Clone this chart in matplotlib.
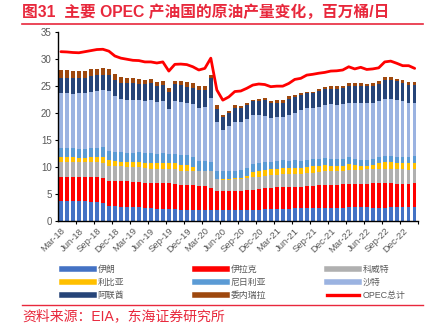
import numpy as np
import pandas as pd
import matplotlib
matplotlib.use('Agg')
import matplotlib.pyplot as plt
from matplotlib.lines import Line2D

plt.rcParams['font.family'] = ['Liberation Sans', 'Noto Sans CJK SC']
plt.rcParams['axes.unicode_minus'] = False

# Monthly data Mar-18 .. Feb-23, million barrels per day
months = pd.date_range('2018-03-01', periods=60, freq='MS').strftime('%b-%y')

iran = [3.75, 3.75, 3.75, 3.75, 3.7, 3.55, 3.45, 3.35, 2.75, 2.65, 2.6, 2.6, 2.6, 2.55, 2.45, 2.35, 2.25, 2.2, 2.15, 2.1,
        2.05, 2.05, 2.05, 2.0, 2.0, 2.0, 1.95, 1.95, 1.95, 1.95, 1.95, 1.95, 2.0, 2.05, 2.1, 2.15, 2.15, 2.2, 2.25, 2.3,
        2.35, 2.35, 2.4, 2.4, 2.4, 2.4, 2.45, 2.45, 2.5, 2.5, 2.5, 2.5, 2.45, 2.45, 2.45, 2.5, 2.5, 2.5, 2.5, 2.5]
iraq = [4.45, 4.45, 4.45, 4.45, 4.5, 4.65, 4.6, 4.65, 4.65, 4.7, 4.75, 4.7, 4.6, 4.65, 4.6, 4.6, 4.7, 4.75, 4.8, 4.8,
        4.6, 4.6, 4.6, 4.5, 4.5, 4.15, 3.6, 3.55, 3.55, 3.6, 3.6, 3.75, 3.8, 3.85, 3.9, 4.0, 4.1, 4.1, 4.05, 4.0,
        3.95, 4.1, 4.1, 4.15, 4.25, 4.25, 4.25, 4.3, 4.3, 4.3, 4.3, 4.4, 4.5, 4.5, 4.5, 4.45, 4.4, 4.35, 4.3, 4.45]
kuwait = [2.7, 2.7, 2.7, 2.7, 2.75, 2.75, 2.8, 2.8, 2.8, 2.8, 2.75, 2.7, 2.7, 2.7, 2.7, 2.7, 2.65, 2.65, 2.6, 2.65,
          2.6, 2.6, 2.6, 2.65, 2.7, 3.0, 2.2, 2.15, 2.15, 2.2, 2.25, 2.25, 2.25, 2.3, 2.3, 2.3, 2.3, 2.35, 2.35, 2.4,
          2.4, 2.45, 2.45, 2.5, 2.5, 2.5, 2.55, 2.55, 2.6, 2.6, 2.6, 2.65, 2.65, 2.7, 2.75, 2.75, 2.7, 2.7, 2.7, 2.7]
libya = [0.95, 1.0, 0.95, 0.75, 0.7, 0.9, 1.05, 1.1, 1.05, 0.95, 0.9, 0.95, 1.05, 1.1, 1.05, 1.05, 1.05, 1.1, 1.1, 1.1,
         1.1, 1.1, 0.7, 0.12, 0.1, 0.08, 0.08, 0.08, 0.1, 0.1, 0.15, 0.45, 1.0, 1.1, 1.15, 1.15, 1.15, 1.15, 1.15, 1.15,
         1.15, 1.15, 1.15, 1.1, 1.15, 1.1, 1.0, 0.95, 1.1, 0.9, 0.7, 0.6, 0.75, 1.15, 1.15, 1.15, 1.15, 1.1, 1.15, 1.15]
nigeria = [1.7, 1.7, 1.7, 1.6, 1.65, 1.7, 1.7, 1.75, 1.75, 1.75, 1.7, 1.7, 1.7, 1.75, 1.8, 1.8, 1.8, 1.8, 1.8, 1.8,
           1.8, 1.8, 1.8, 1.8, 1.75, 1.75, 1.5, 1.45, 1.45, 1.45, 1.45, 1.45, 1.45, 1.4, 1.45, 1.4, 1.4, 1.4, 1.35, 1.35,
           1.3, 1.3, 1.35, 1.35, 1.3, 1.3, 1.3, 1.3, 1.25, 1.2, 1.2, 1.15, 1.1, 1.05, 1.1, 1.1, 1.15, 1.2, 1.2, 1.2]
saudi = [10.1, 10.05, 10.05, 10.4, 10.5, 10.45, 10.55, 10.65, 11.1, 10.35, 9.95, 9.85, 9.85, 9.6, 9.65, 9.9, 9.55, 9.75, 8.3, 9.8,
         9.85, 9.65, 9.85, 9.95, 10.15, 11.9, 9.05, 7.65, 8.4, 8.95, 8.85, 9.05, 9.15, 8.95, 8.6, 8.15, 8.2, 8.1, 8.5, 8.85,
         9.4, 9.5, 9.4, 9.7, 9.9, 10.05, 9.95, 10.05, 10.15, 10.4, 10.5, 10.5, 10.4, 10.3, 10.75, 10.6, 10.5, 10.45, 10.05, 9.9]
uae = [2.8, 2.85, 2.85, 2.8, 2.75, 2.8, 2.85, 2.8, 2.9, 2.95, 3.0, 3.05, 3.05, 3.1, 3.1, 3.1, 3.05, 2.95, 3.2, 3.1,
       3.2, 3.1, 3.1, 3.3, 3.1, 3.7, 2.45, 2.45, 2.35, 2.75, 2.75, 2.6, 2.5, 2.6, 2.9, 2.65, 2.6, 2.65, 3.0, 2.85,
       2.75, 2.8, 2.8, 2.9, 2.9, 2.95, 3.05, 3.0, 3.2, 3.2, 3.3, 3.15, 3.2, 3.3, 3.4, 3.6, 3.5, 3.25, 3.3, 3.3]
venezuela = [1.5, 1.45, 1.4, 1.35, 1.3, 1.3, 1.25, 1.2, 1.15, 1.15, 1.1, 0.95, 0.9, 0.85, 0.8, 0.75, 0.75, 0.75, 0.65, 0.65,
             0.75, 0.8, 0.8, 0.75, 0.75, 0.5, 0.6, 0.45, 0.5, 0.5, 0.4, 0.3, 0.3, 0.35, 0.35, 0.5, 0.5, 0.45, 0.45, 0.5,
             0.35, 0.35, 0.35, 0.35, 0.35, 0.45, 0.45, 0.5, 0.5, 0.45, 0.5, 0.5, 0.5, 0.5, 0.6, 0.6, 0.5, 0.6, 0.5, 0.55]
opec_total = [31.4, 31.35, 31.25, 31.2, 31.4, 31.6, 31.8, 31.85, 31.5, 30.6, 30.2, 30.0, 29.8, 29.75, 29.5, 29.5, 29.3, 29.5, 27.8, 29.05,
              29.1, 29.0, 28.6, 28.0, 28.3, 30.2, 24.3, 22.4, 23.0, 24.0, 24.1, 24.6, 25.2, 25.4, 25.3, 24.9, 25.0, 25.0, 25.5, 26.25,
              26.45, 27.05, 27.2, 27.4, 27.55, 27.8, 27.85, 28.0, 28.6, 28.2, 28.5, 28.1, 28.2, 28.4, 29.5, 29.65, 29.25, 28.8, 28.8, 28.3]

names = ['伊朗', '伊拉克', '科威特', '利比亚', '尼日利亚', '沙特', '阿联酋', '委内瑞拉']
series = [iran, iraq, kuwait, libya, nigeria, saudi, uae, venezuela]
colors = ['#4472C4', '#FF0000', '#B0B0B0', '#FFC000', '#5B9BD5', '#9BB3E1', '#264478', '#9E480E']

red = '#E8283C'
gray_txt = '#595959'

fig = plt.figure(figsize=(4.42, 3.28), dpi=100)
ax = fig.add_axes([0.131, 0.327, 0.814, 0.5745])

x = np.arange(len(months))
bottom = np.zeros(len(months))
for vals, c in zip(series, colors):
    ax.bar(x, vals, width=0.6, bottom=bottom, color=c, linewidth=0)
    bottom += np.array(vals)
ax.plot(x, opec_total, color='#FF0000', linewidth=2.0, solid_capstyle='round')

ax.set_xlim(-0.5, len(months) - 0.5)
ax.set_ylim(0, 35)
ax.set_yticks(np.arange(0, 36, 5))
ax.set_xticks(x[::3])
ax.set_xticklabels(months[::3], rotation=45, ha='right', va='top', rotation_mode='anchor')
ax.set_xticks(np.arange(2.5, len(months), 3), minor=True)
ax.tick_params(axis='x', which='major', length=0, pad=4, labelsize=6.8, labelcolor=gray_txt)
ax.tick_params(axis='x', which='minor', length=2.5, width=0.8, direction='out', color='black')
ax.tick_params(axis='y', length=2.5, width=0.8, direction='out', pad=2, labelsize=7, labelcolor=gray_txt)
for s in ['top', 'right']:
    ax.spines[s].set_visible(False)
for s in ['left', 'bottom']:
    ax.spines[s].set_color('black')
    ax.spines[s].set_linewidth(1.0)

# legend: three columns, row-major like the original
handles = [Line2D([], [], color=c, linewidth=4) for c in colors]
handles.append(Line2D([], [], color='#FF0000', linewidth=2.4))
labels = names + ['OPEC总计']
col_x = [0.140, 0.441, 0.740]
for k in range(3):
    idx = [k, k + 3, k + 6]
    fig.legend([handles[i] for i in idx], [labels[i] for i in idx],
               loc='center left', bbox_to_anchor=(col_x[k], 0.139),
               frameon=False, fontsize=6.4, handlelength=3.6, handletextpad=0.4,
               labelspacing=0.45, borderpad=0, borderaxespad=0, labelcolor=gray_txt)

# title, separator lines, source
fig.text(0.05, 0.962, '图31  主要 OPEC 产油国的原油产量变化，百万桶/日', color=red,
         fontsize=11.3, fontweight='bold', va='center', ha='left')
fig.add_artist(Line2D([0.05, 0.957], [0.928, 0.928], color=red, linewidth=1.2))
fig.add_artist(Line2D([0.05, 0.957], [0.071, 0.071], color=red, linewidth=1.0))
fig.text(0.05, 0.036, '资料来源：EIA，东海证券研究所', color=red, fontsize=10, va='center', ha='left')

fig.savefig('out.png', dpi=100)
